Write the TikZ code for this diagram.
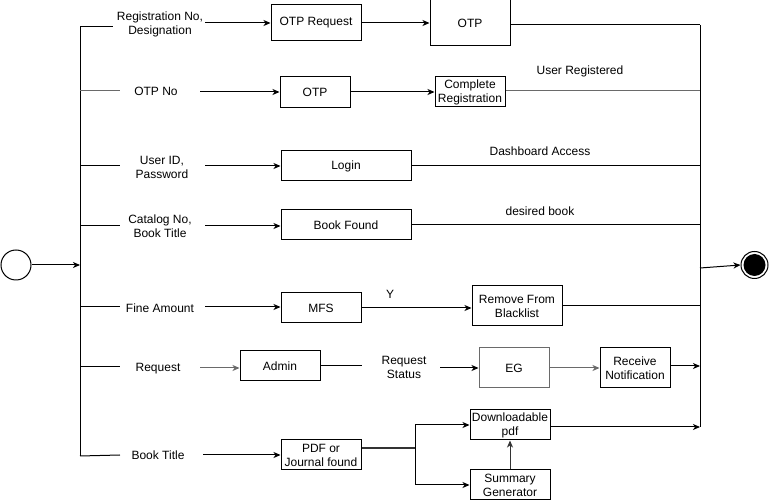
\documentclass[tikz,border=0pt]{standalone}
\usepackage{fontspec}
\setmainfont{Liberation Sans}
\usetikzlibrary{arrows.meta}
\definecolor{lg}{HTML}{6A6A6A}
\begin{document}
\begin{tikzpicture}[x=1pt,y=-1pt,line width=1pt,
  every node/.style={font=\fontsize{12}{14}\selectfont},
  box/.style={draw,inner sep=0pt,align=center},
  lbl/.style={inner sep=0pt,align=center},
  arr/.style={-{Stealth[length=7pt,width=6pt,inset=2pt]}}]
\useasboundingbox (0,0) rectangle (772,502);
% start / end
\node[draw,circle,minimum size=30pt,inner sep=0pt] (start) at (16,265) {};
\node[draw,circle,minimum size=27pt,inner sep=0pt] (endo) at (754.5,265) {};
\node[fill=black,circle,minimum size=22pt,inner sep=0pt] (endi) at (754.5,265) {};
% bars
\coordinate (lt) at (80,27);
\coordinate (lb) at (80,456);
\coordinate (lm) at (80,265);
\coordinate (rt) at (700,25);
\coordinate (rb) at (700,427);
\draw (lt) -- (lb);
\draw (rt) -- (rb);
\draw[arr] (start) -- (lm);
\coordinate (rend) at (700,268);
\draw[arr] (rend) -- (endo.west);
% boxes
\node[box,minimum width=90pt,minimum height=36pt] (otpreq) at (316,23) {OTP Request};
\node[box,minimum width=80pt,minimum height=46pt] (otp1) at (470,23) {OTP};
\node[box,minimum width=70pt,minimum height=31pt] (otp2) at (315,92) {OTP};
\node[box,minimum width=70pt,minimum height=30pt] (compreg) at (470,92) {Complete\\Registration};
\node[box,minimum width=130pt,minimum height=30pt] (login) at (346,166) {Login};
\node[box,minimum width=130pt,minimum height=30pt] (bookfound) at (346,225) {Book Found};
\node[box,minimum width=80pt,minimum height=30pt] (mfs) at (321,308) {MFS};
\node[box,minimum width=90pt,minimum height=40pt] (rfb) at (517,306) {Remove From\\Blacklist};
\node[box,minimum width=80pt,minimum height=30pt] (admin) at (280,366) {Admin};
\node[box,draw=lg,minimum width=70pt,minimum height=40pt] (eg) at (514,368) {EG};
\node[box,minimum width=70pt,minimum height=40pt] (rn) at (635,368) {Receive\\Notification};
\node[box,minimum width=80pt,minimum height=30pt] (pdf) at (321,455) {PDF or\\Journal found};
\node[box,minimum width=80pt,minimum height=30pt] (dpdf) at (510,425) {Downloadable\\pdf};
\node[box,minimum width=80pt,minimum height=30pt] (sg) at (510,485) {Summary\\Generator};
% labels
\node[lbl] (l1) at (160,24) {Registration No,\\Designation};
\node[lbl] (l2) at (156,91) {OTP No};
\node[lbl] (l3) at (162,167) {User ID,\\Password};
\node[lbl] (l4) at (160,226) {Catalog No,\\Book Title};
\node[lbl] (l5) at (160,308) {Fine Amount};
\node[lbl] (l6) at (158,369) {Request};
\node[lbl] (l7) at (158,455) {Book Title};
\node[lbl] (ur) at (580,71) {User Registered};
\node[lbl] (da) at (540,151) {Dashboard Access};
\node[lbl] (db) at (540,211) {desired book};
\node[lbl] (yy) at (390,294) {Y};
\node[lbl] (rs) at (404,367) {Request\\Status};
% row 1
\coordinate (a1) at (113,27); \coordinate (c1) at (205,23);
\draw (lt) -- (a1);
\draw[arr] (c1) -- (otpreq.west);
\draw[arr] (otpreq) -- (otp1);
\coordinate (r1) at (700,25);
\draw ([yshift=-2pt]otp1.east) -- (r1);
% row 2
\coordinate (b2) at (80,91); \coordinate (a2) at (120,91); \coordinate (c2) at (200,92);
\draw[lg] (b2) -- (a2);
\draw[arr] (c2) -- (otp2.west |- c2);
\draw[arr] (otp2) -- (compreg);
\coordinate (r2) at (700,91);
\draw[lg] (compreg.east |- r2) -- (r2);
% row 3
\coordinate (b3) at (80,166); \coordinate (a3) at (120,166); \coordinate (c3) at (205,166);
\draw (b3) -- (a3);
\draw[arr] (c3) -- (login.west);
\coordinate (r3) at (700,166);
\draw (login.east) -- (r3);
% row 4
\coordinate (b4) at (80,226); \coordinate (a4) at (120,226); \coordinate (c4) at (205,226);
\draw (b4) -- (a4);
\draw[arr] (c4) -- (bookfound.west |- c4);
\coordinate (r4) at (700,225);
\draw (bookfound.east) -- (r4);
% row 5
\coordinate (b5) at (80,307); \coordinate (a5) at (120,307); \coordinate (c5) at (205,307);
\draw (b5) -- (a5);
\draw[arr] (c5) -- (mfs.west |- c5);
\draw[arr] (mfs.east) -- (rfb.west |- mfs.east);
\coordinate (r5) at (700,306);
\draw (rfb.east) -- (r5);
% row 6
\coordinate (b6) at (80,367); \coordinate (a6) at (120,367); \coordinate (c6) at (200,368);
\draw (b6) -- (a6);
\draw[arr,lg] (c6) -- (admin.west |- c6);
\coordinate (d6) at (362,366); \coordinate (e6) at (440,368);
\draw (admin.east) -- (d6);
\draw[arr] (e6) -- (eg.west);
\draw[arr,lg] (eg.east) -- (rn.west);
\coordinate (r6) at (700,366);
\draw[arr] (rn.east |- r6) -- (r6);
% row 7
\coordinate (b7) at (80,455); \coordinate (a7) at (120,455); \coordinate (c7) at (203,455);
\draw (lb) -- (a7);
\draw[arr] (c7) -- (pdf.west);
\coordinate (j) at (415,448);
\draw[line width=1.4pt,black!80] ([yshift=7pt]pdf.east) -- (j);
\draw[arr] (j) |- (dpdf.west);
\draw[arr] (j) |- (sg.west);
\draw[arr,black!80] (sg.north) -- (dpdf.south);
\draw[arr] (dpdf.east |- rb) -- (rb);
\end{tikzpicture}
\end{document}
